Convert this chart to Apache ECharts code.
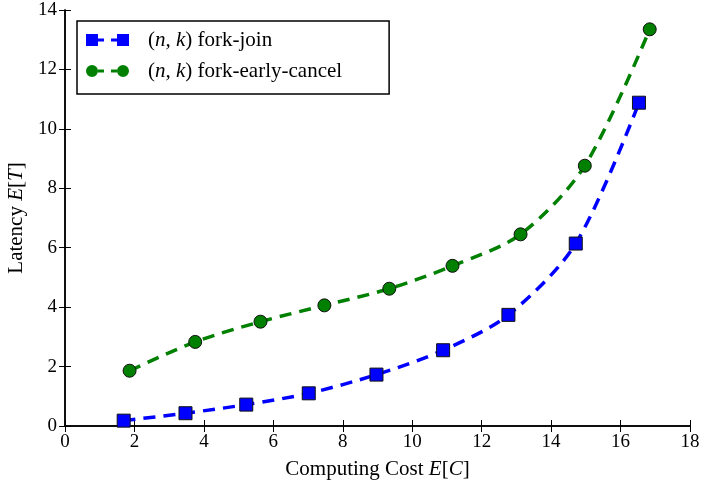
<!DOCTYPE html>
<html><head><meta charset="utf-8">
<script src="https://cdn.jsdelivr.net/npm/echarts@6/dist/echarts.min.js"></script>
<style>html,body{margin:0;padding:0;background:#fff}#c{width:701px;height:485px}</style>
</head><body><div id="c"></div>
<script>
var forkJoinX = [1.69, 3.47, 5.22, 7.02, 8.97, 10.89, 12.77, 14.71, 16.53];
var forkJoinY = [0.18, 0.43, 0.72, 1.10, 1.73, 2.55, 3.74, 6.14, 10.88];
var cancelX = [1.86, 3.75, 5.63, 7.47, 9.34, 11.16, 13.12, 14.97, 16.84];
var cancelY = [1.86, 2.83, 3.51, 4.06, 4.62, 5.39, 6.45, 8.76, 13.35];
var xTicks = [0, 2, 4, 6, 8, 10, 12, 14, 16, 18];
var yTicks = [0, 2, 4, 6, 8, 10, 12, 14];
var seriesNames = ['fork-join', 'fork-early-cancel'];

var FONT = '"Liberation Serif", "DejaVu Serif", serif';
function pairs(xs, ys) { return xs.map(function (x, i) { return [x, ys[i]]; }); }

var chart = echarts.init(document.getElementById('c'), null, { renderer: 'canvas' });
var axisCommon = {
  type: 'value',
  axisLine: { show: true, lineStyle: { color: '#000', width: 1.5 } },
  axisTick: { show: true, inside: true, length: 6, lineStyle: { color: '#000', width: 1 } },
  splitLine: { show: false }
};
function mk(extra) { return Object.assign({}, JSON.parse(JSON.stringify(axisCommon)), extra); }
function nameRich(size) {
  return { rich: {
    p: { fontFamily: FONT, fontSize: size, color: '#000' },
    i: { fontFamily: FONT, fontSize: size, fontStyle: 'italic', color: '#000' } } };
}

var blueIcon = 'path://M0 0h12v12h-12z M12 4.5h6v3h-6z M25 4.5h6v3h-6z M31 0h12v12h-12z';
var greenIcon = 'path://M6 0A6 6 0 1 1 6 12A6 6 0 1 1 6 0z M12 4.5h6v3h-6z M25 4.5h6v3h-6z M37 0A6 6 0 1 1 37 12A6 6 0 1 1 37 0z';

chart.setOption({
  animation: false,
  backgroundColor: '#fff',
  grid: { left: 65, right: 11, top: 10, bottom: 59, containLabel: false, outerBoundsMode: 'none' },
  legend: {
    orient: 'vertical', left: 77, top: 21,
    padding: [7, 47, 11, 9],
    itemWidth: 43, itemHeight: 13, itemGap: 7,
    borderColor: '#000', borderWidth: 1.5, borderRadius: 0,
    backgroundColor: '#fff',
    itemStyle: { borderWidth: 0 },
    data: [
      { name: seriesNames[0], icon: blueIcon },
      { name: seriesNames[1], icon: greenIcon }
    ],
    formatter: function (n) { return '{p|(}{i|n, k}{p|)} {p|' + n + '}'; },
    textStyle: {
      fontFamily: FONT, fontSize: 21, color: '#000', lineHeight: 24,
      padding: [0, 0, 0, 14],
      rich: {
        p: { fontFamily: FONT, fontSize: 21, color: '#000', lineHeight: 24 },
        i: { fontFamily: FONT, fontSize: 21, fontStyle: 'italic', color: '#000', lineHeight: 24 }
      }
    }
  },
  xAxis: [
    mk({
      min: 0, max: 18, interval: 2, position: 'bottom',
      name: '{p|Computing Cost }{i|E}{p|[}{i|C}{p|]}',
      nameLocation: 'middle', nameGap: 33,
      nameTextStyle: nameRich(21),
      axisLabel: { fontFamily: FONT, fontSize: 19, color: '#000', margin: 7,
        formatter: function (v) { return xTicks.indexOf(v) >= 0 ? String(v) : ''; } }
    }),
    mk({ min: 0, max: 18, interval: 2, position: 'top', axisLabel: { show: false } })
  ],
  yAxis: [
    mk({
      min: 0, max: 14, interval: 2, position: 'left',
      name: '{p|Latency }{i|E}{p|[}{i|T}{p|]}',
      nameLocation: 'middle', nameGap: 35, nameRotate: 90,
      nameTextStyle: nameRich(21),
      axisLabel: { fontFamily: FONT, fontSize: 19, color: '#000', margin: 8,
        formatter: function (v) { return yTicks.indexOf(v) >= 0 ? String(v) : ''; } }
    }),
    mk({ min: 0, max: 14, interval: 2, position: 'right', axisLabel: { show: false } })
  ],
  series: [
    {
      name: seriesNames[0], type: 'line', xAxisIndex: 0, yAxisIndex: 0,
      data: pairs(forkJoinX, forkJoinY), smooth: 0.3,
      symbol: 'rect', symbolSize: 13,
      lineStyle: { color: '#0000ff', width: 3.5, type: [12, 8] },
      itemStyle: { color: '#0000ff', borderColor: '#111', borderWidth: 1 }
    },
    {
      name: seriesNames[1], type: 'line', xAxisIndex: 0, yAxisIndex: 0,
      data: pairs(cancelX, cancelY), smooth: 0.3,
      symbol: 'circle', symbolSize: 13,
      lineStyle: { color: '#008000', width: 3.5, type: [12, 8] },
      itemStyle: { color: '#008000', borderColor: '#111', borderWidth: 1 }
    }
  ]
});
</script></body></html>
